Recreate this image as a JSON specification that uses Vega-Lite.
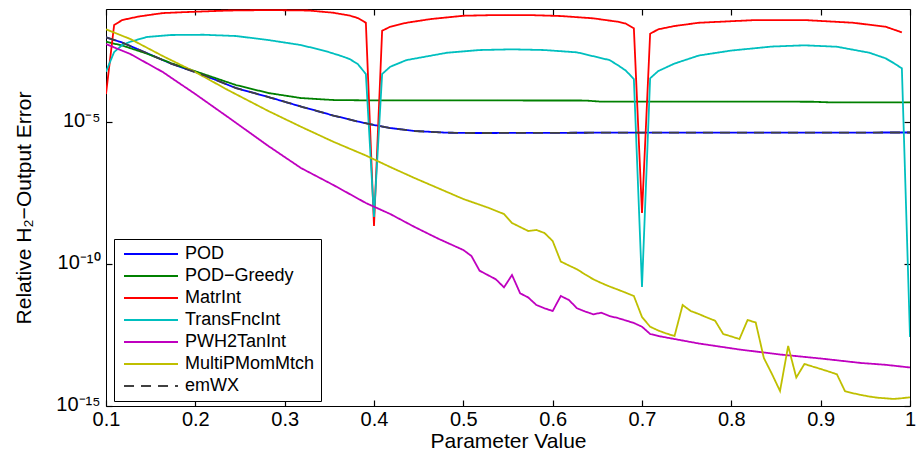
{
  "$schema": "https://vega.github.io/schema/vega-lite/v6.json",
  "width": 804,
  "height": 397,
  "autosize": "none",
  "padding": {"left": 106, "top": 9, "right": 7, "bottom": 59},
  "background": "white",
  "config": {
    "view": {"stroke": "black", "strokeWidth": 1},
    "font": "Liberation Sans",
    "axis": {
      "labelFont": "Liberation Sans", "labelFontSize": 20, "labelColor": "black",
      "titleFont": "Liberation Sans", "titleFontSize": 21, "titleFontWeight": "normal", "titleColor": "black",
      "domain": false, "tickColor": "black", "grid": false, "tickSize": 6, "tickWidth": 1.2, "offset": -6,
      "labelFlush": false, "labelOverlap": false
    }
  },
  "data": {
    "values": [
      {"method": "POD", "p": 0.1, "err": 1.0e-2},
      {"method": "POD", "p": 0.1182, "err": 6.56e-3},
      {"method": "POD", "p": 0.1455, "err": 2.80e-3},
      {"method": "POD", "p": 0.1727, "err": 1.19e-3},
      {"method": "POD", "p": 0.2091, "err": 4.69e-4},
      {"method": "POD", "p": 0.2455, "err": 1.63e-4},
      {"method": "POD", "p": 0.2818, "err": 7.87e-5},
      {"method": "POD", "p": 0.3182, "err": 3.64e-5},
      {"method": "POD", "p": 0.3545, "err": 1.75e-5},
      {"method": "POD", "p": 0.3818, "err": 1.08e-5},
      {"method": "POD", "p": 0.4, "err": 8.09e-6},
      {"method": "POD", "p": 0.4182, "err": 6.35e-6},
      {"method": "POD", "p": 0.4455, "err": 4.98e-6},
      {"method": "POD", "p": 0.4818, "err": 4.34e-6},
      {"method": "POD", "p": 0.5182, "err": 4.23e-6},
      {"method": "POD", "p": 0.6455, "err": 4.34e-6},
      {"method": "POD", "p": 0.8, "err": 4.38e-6},
      {"method": "POD", "p": 1.0, "err": 4.41e-6},

      {"method": "POD−Greedy", "p": 0.1, "err": 7.01e-3},
      {"method": "POD−Greedy", "p": 0.1182, "err": 5.15e-3},
      {"method": "POD−Greedy", "p": 0.1455, "err": 2.69e-3},
      {"method": "POD−Greedy", "p": 0.1727, "err": 1.24e-3},
      {"method": "POD−Greedy", "p": 0.2091, "err": 5.09e-4},
      {"method": "POD−Greedy", "p": 0.2455, "err": 2.08e-4},
      {"method": "POD−Greedy", "p": 0.2818, "err": 1.09e-4},
      {"method": "POD−Greedy", "p": 0.3182, "err": 7.24e-5},
      {"method": "POD−Greedy", "p": 0.3545, "err": 6.17e-5},
      {"method": "POD−Greedy", "p": 0.3909, "err": 6.01e-5},
      {"method": "POD−Greedy", "p": 0.6364, "err": 5.92e-5},
      {"method": "POD−Greedy", "p": 0.6545, "err": 5.40e-5},
      {"method": "POD−Greedy", "p": 0.8909, "err": 5.37e-5},
      {"method": "POD−Greedy", "p": 0.9091, "err": 5.12e-5},
      {"method": "POD−Greedy", "p": 1.0, "err": 5.12e-5},

      {"method": "MatrInt", "p": 0.1, "err": 1.0e-4},
      {"method": "MatrInt", "p": 0.1091, "err": 2.72e-2},
      {"method": "MatrInt", "p": 0.1182, "err": 4.08e-2},
      {"method": "MatrInt", "p": 0.1364, "err": 5.42e-2},
      {"method": "MatrInt", "p": 0.1636, "err": 7.19e-2},
      {"method": "MatrInt", "p": 0.1909, "err": 7.82e-2},
      {"method": "MatrInt", "p": 0.2364, "err": 8.83e-2},
      {"method": "MatrInt", "p": 0.2818, "err": 9.18e-2},
      {"method": "MatrInt", "p": 0.3273, "err": 8.83e-2},
      {"method": "MatrInt", "p": 0.3545, "err": 7.38e-2},
      {"method": "MatrInt", "p": 0.3727, "err": 5.88e-2},
      {"method": "MatrInt", "p": 0.3818, "err": 4.80e-2},
      {"method": "MatrInt", "p": 0.3909, "err": 3.27e-2},
      {"method": "MatrInt", "p": 0.4, "err": 2.22e-9},
      {"method": "MatrInt", "p": 0.4091, "err": 1.71e-2},
      {"method": "MatrInt", "p": 0.4182, "err": 2.37e-2},
      {"method": "MatrInt", "p": 0.4364, "err": 3.27e-2},
      {"method": "MatrInt", "p": 0.4636, "err": 4.43e-2},
      {"method": "MatrInt", "p": 0.5, "err": 5.78e-2},
      {"method": "MatrInt", "p": 0.5364, "err": 6.12e-2},
      {"method": "MatrInt", "p": 0.5727, "err": 6.12e-2},
      {"method": "MatrInt", "p": 0.6091, "err": 5.65e-2},
      {"method": "MatrInt", "p": 0.6455, "err": 4.69e-2},
      {"method": "MatrInt", "p": 0.6727, "err": 3.56e-2},
      {"method": "MatrInt", "p": 0.6818, "err": 3.07e-2},
      {"method": "MatrInt", "p": 0.6909, "err": 2.08e-2},
      {"method": "MatrInt", "p": 0.7, "err": 6.38e-9},
      {"method": "MatrInt", "p": 0.7091, "err": 1.34e-2},
      {"method": "MatrInt", "p": 0.7182, "err": 1.92e-2},
      {"method": "MatrInt", "p": 0.7364, "err": 2.51e-2},
      {"method": "MatrInt", "p": 0.7636, "err": 3.27e-2},
      {"method": "MatrInt", "p": 0.8273, "err": 4.08e-2},
      {"method": "MatrInt", "p": 0.8818, "err": 4.08e-2},
      {"method": "MatrInt", "p": 0.9364, "err": 3.27e-2},
      {"method": "MatrInt", "p": 0.9727, "err": 2.37e-2},
      {"method": "MatrInt", "p": 0.9909, "err": 1.50e-2},

      {"method": "TransFncInt", "p": 0.1, "err": 6.14e-4},
      {"method": "TransFncInt", "p": 0.1091, "err": 3.03e-3},
      {"method": "TransFncInt", "p": 0.1182, "err": 5.36e-3},
      {"method": "TransFncInt", "p": 0.1273, "err": 7.01e-3},
      {"method": "TransFncInt", "p": 0.1455, "err": 1.026e-2},
      {"method": "TransFncInt", "p": 0.1727, "err": 1.21e-2},
      {"method": "TransFncInt", "p": 0.2091, "err": 1.236e-2},
      {"method": "TransFncInt", "p": 0.2455, "err": 1.114e-2},
      {"method": "TransFncInt", "p": 0.2818, "err": 8.04e-3},
      {"method": "TransFncInt", "p": 0.3182, "err": 5.36e-3},
      {"method": "TransFncInt", "p": 0.3455, "err": 3.30e-3},
      {"method": "TransFncInt", "p": 0.3636, "err": 2.19e-3},
      {"method": "TransFncInt", "p": 0.3727, "err": 1.72e-3},
      {"method": "TransFncInt", "p": 0.3818, "err": 1.15e-3},
      {"method": "TransFncInt", "p": 0.3909, "err": 5.09e-4},
      {"method": "TransFncInt", "p": 0.4, "err": 4.61e-9},
      {"method": "TransFncInt", "p": 0.4091, "err": 5.09e-4},
      {"method": "TransFncInt", "p": 0.4182, "err": 9.2e-4},
      {"method": "TransFncInt", "p": 0.4364, "err": 1.58e-3},
      {"method": "TransFncInt", "p": 0.4818, "err": 2.87e-3},
      {"method": "TransFncInt", "p": 0.5182, "err": 3.57e-3},
      {"method": "TransFncInt", "p": 0.5545, "err": 3.78e-3},
      {"method": "TransFncInt", "p": 0.5909, "err": 3.57e-3},
      {"method": "TransFncInt", "p": 0.6273, "err": 2.96e-3},
      {"method": "TransFncInt", "p": 0.6636, "err": 1.58e-3},
      {"method": "TransFncInt", "p": 0.6727, "err": 1.06e-3},
      {"method": "TransFncInt", "p": 0.6818, "err": 6.76e-4},
      {"method": "TransFncInt", "p": 0.6909, "err": 3.39e-4},
      {"method": "TransFncInt", "p": 0.7, "err": 1.57e-11},
      {"method": "TransFncInt", "p": 0.7091, "err": 3.59e-4},
      {"method": "TransFncInt", "p": 0.7182, "err": 6.49e-4},
      {"method": "TransFncInt", "p": 0.7364, "err": 1.19e-3},
      {"method": "TransFncInt", "p": 0.7636, "err": 2.29e-3},
      {"method": "TransFncInt", "p": 0.8, "err": 3.43e-3},
      {"method": "TransFncInt", "p": 0.8455, "err": 4.74e-3},
      {"method": "TransFncInt", "p": 0.8818, "err": 5.24e-3},
      {"method": "TransFncInt", "p": 0.9182, "err": 4.67e-3},
      {"method": "TransFncInt", "p": 0.9545, "err": 2.87e-3},
      {"method": "TransFncInt", "p": 0.9727, "err": 1.82e-3},
      {"method": "TransFncInt", "p": 0.9818, "err": 1.24e-3},
      {"method": "TransFncInt", "p": 0.9909, "err": 8.07e-4},
      {"method": "TransFncInt", "p": 1.0, "err": 2.71e-13},

      {"method": "PWH2TanInt", "p": 0.1, "err": 5.81e-3},
      {"method": "PWH2TanInt", "p": 0.1273, "err": 2.58e-3},
      {"method": "PWH2TanInt", "p": 0.1636, "err": 5.98e-4},
      {"method": "PWH2TanInt", "p": 0.2, "err": 1.0e-4},
      {"method": "PWH2TanInt", "p": 0.2364, "err": 1.55e-5},
      {"method": "PWH2TanInt", "p": 0.2818, "err": 1.47e-6},
      {"method": "PWH2TanInt", "p": 0.3182, "err": 2.47e-7},
      {"method": "PWH2TanInt", "p": 0.3545, "err": 6.21e-8},
      {"method": "PWH2TanInt", "p": 0.3909, "err": 1.44e-8},
      {"method": "PWH2TanInt", "p": 0.4182, "err": 5.89e-9},
      {"method": "PWH2TanInt", "p": 0.4455, "err": 2.05e-9},
      {"method": "PWH2TanInt", "p": 0.4727, "err": 7.74e-10},
      {"method": "PWH2TanInt", "p": 0.5, "err": 3.17e-10},
      {"method": "PWH2TanInt", "p": 0.5091, "err": 1.95e-10},
      {"method": "PWH2TanInt", "p": 0.5182, "err": 5.90e-11},
      {"method": "PWH2TanInt", "p": 0.5273, "err": 4.16e-11},
      {"method": "PWH2TanInt", "p": 0.5364, "err": 2.94e-11},
      {"method": "PWH2TanInt", "p": 0.5455, "err": 1.53e-11},
      {"method": "PWH2TanInt", "p": 0.5545, "err": 4.16e-11},
      {"method": "PWH2TanInt", "p": 0.5636, "err": 9.42e-12},
      {"method": "PWH2TanInt", "p": 0.5727, "err": 6.70e-12},
      {"method": "PWH2TanInt", "p": 0.5818, "err": 3.64e-12},
      {"method": "PWH2TanInt", "p": 0.5909, "err": 2.79e-12},
      {"method": "PWH2TanInt", "p": 0.6, "err": 2.24e-12},
      {"method": "PWH2TanInt", "p": 0.6091, "err": 7.57e-12},
      {"method": "PWH2TanInt", "p": 0.6182, "err": 5.47e-12},
      {"method": "PWH2TanInt", "p": 0.6273, "err": 2.79e-12},
      {"method": "PWH2TanInt", "p": 0.6364, "err": 2.15e-12},
      {"method": "PWH2TanInt", "p": 0.6455, "err": 1.71e-12},
      {"method": "PWH2TanInt", "p": 0.6545, "err": 1.95e-12},
      {"method": "PWH2TanInt", "p": 0.6636, "err": 1.49e-12},
      {"method": "PWH2TanInt", "p": 0.6727, "err": 1.27e-12},
      {"method": "PWH2TanInt", "p": 0.6818, "err": 1.04e-12},
      {"method": "PWH2TanInt", "p": 0.6909, "err": 8.45e-13},
      {"method": "PWH2TanInt", "p": 0.7, "err": 6.25e-13},
      {"method": "PWH2TanInt", "p": 0.7091, "err": 3.46e-13},
      {"method": "PWH2TanInt", "p": 0.7182, "err": 2.94e-13},
      {"method": "PWH2TanInt", "p": 0.7364, "err": 2.30e-13},
      {"method": "PWH2TanInt", "p": 0.7636, "err": 1.60e-13},
      {"method": "PWH2TanInt", "p": 0.8091, "err": 9.82e-14},
      {"method": "PWH2TanInt", "p": 0.8545, "err": 6.55e-14},
      {"method": "PWH2TanInt", "p": 0.9, "err": 4.73e-14},
      {"method": "PWH2TanInt", "p": 0.9455, "err": 3.28e-14},
      {"method": "PWH2TanInt", "p": 0.9727, "err": 2.84e-14},
      {"method": "PWH2TanInt", "p": 1.0, "err": 2.28e-14},

      {"method": "MultiPMomMtch", "p": 0.1, "err": 1.92e-2},
      {"method": "MultiPMomMtch", "p": 0.1273, "err": 8.73e-3},
      {"method": "MultiPMomMtch", "p": 0.1636, "err": 2.19e-3},
      {"method": "MultiPMomMtch", "p": 0.2, "err": 5.98e-4},
      {"method": "MultiPMomMtch", "p": 0.2364, "err": 1.39e-4},
      {"method": "MultiPMomMtch", "p": 0.2818, "err": 2.52e-5},
      {"method": "MultiPMomMtch", "p": 0.3182, "err": 7.05e-6},
      {"method": "MultiPMomMtch", "p": 0.3545, "err": 2.08e-6},
      {"method": "MultiPMomMtch", "p": 0.3909, "err": 6.81e-7},
      {"method": "MultiPMomMtch", "p": 0.4182, "err": 2.67e-7},
      {"method": "MultiPMomMtch", "p": 0.4455, "err": 1.09e-7},
      {"method": "MultiPMomMtch", "p": 0.4727, "err": 4.67e-8},
      {"method": "MultiPMomMtch", "p": 0.5, "err": 1.99e-8},
      {"method": "MultiPMomMtch", "p": 0.5273, "err": 9.98e-9},
      {"method": "MultiPMomMtch", "p": 0.5455, "err": 5.89e-9},
      {"method": "MultiPMomMtch", "p": 0.5545, "err": 2.84e-9},
      {"method": "MultiPMomMtch", "p": 0.5636, "err": 2.05e-9},
      {"method": "MultiPMomMtch", "p": 0.5727, "err": 1.48e-9},
      {"method": "MultiPMomMtch", "p": 0.5818, "err": 1.61e-9},
      {"method": "MultiPMomMtch", "p": 0.5909, "err": 1.26e-9},
      {"method": "MultiPMomMtch", "p": 0.6, "err": 6.58e-10},
      {"method": "MultiPMomMtch", "p": 0.6091, "err": 1.24e-10},
      {"method": "MultiPMomMtch", "p": 0.6182, "err": 8.99e-11},
      {"method": "MultiPMomMtch", "p": 0.6273, "err": 6.61e-11},
      {"method": "MultiPMomMtch", "p": 0.6364, "err": 4.34e-11},
      {"method": "MultiPMomMtch", "p": 0.6455, "err": 2.94e-11},
      {"method": "MultiPMomMtch", "p": 0.6545, "err": 2.17e-11},
      {"method": "MultiPMomMtch", "p": 0.6636, "err": 1.64e-11},
      {"method": "MultiPMomMtch", "p": 0.6727, "err": 1.28e-11},
      {"method": "MultiPMomMtch", "p": 0.6818, "err": 9.89e-12},
      {"method": "MultiPMomMtch", "p": 0.6909, "err": 7.57e-12},
      {"method": "MultiPMomMtch", "p": 0.7, "err": 1.37e-12},
      {"method": "MultiPMomMtch", "p": 0.7091, "err": 6.25e-13},
      {"method": "MultiPMomMtch", "p": 0.7182, "err": 4.59e-13},
      {"method": "MultiPMomMtch", "p": 0.7273, "err": 3.60e-13},
      {"method": "MultiPMomMtch", "p": 0.7364, "err": 2.94e-13},
      {"method": "MultiPMomMtch", "p": 0.7455, "err": 3.64e-12},
      {"method": "MultiPMomMtch", "p": 0.7545, "err": 2.24e-12},
      {"method": "MultiPMomMtch", "p": 0.7636, "err": 1.75e-12},
      {"method": "MultiPMomMtch", "p": 0.7727, "err": 1.32e-12},
      {"method": "MultiPMomMtch", "p": 0.7818, "err": 1.02e-12},
      {"method": "MultiPMomMtch", "p": 0.7909, "err": 3.46e-13},
      {"method": "MultiPMomMtch", "p": 0.8, "err": 2.83e-13},
      {"method": "MultiPMomMtch", "p": 0.8091, "err": 2.30e-13},
      {"method": "MultiPMomMtch", "p": 0.8182, "err": 1.08e-12},
      {"method": "MultiPMomMtch", "p": 0.8273, "err": 8.79e-13},
      {"method": "MultiPMomMtch", "p": 0.8364, "err": 4.93e-14},
      {"method": "MultiPMomMtch", "p": 0.8455, "err": 1.34e-14},
      {"method": "MultiPMomMtch", "p": 0.8545, "err": 3.38e-15},
      {"method": "MultiPMomMtch", "p": 0.8636, "err": 1.31e-13},
      {"method": "MultiPMomMtch", "p": 0.8727, "err": 1.01e-14},
      {"method": "MultiPMomMtch", "p": 0.8818, "err": 3.03e-14},
      {"method": "MultiPMomMtch", "p": 0.8909, "err": 2.47e-14},
      {"method": "MultiPMomMtch", "p": 0.9, "err": 2.02e-14},
      {"method": "MultiPMomMtch", "p": 0.9091, "err": 1.64e-14},
      {"method": "MultiPMomMtch", "p": 0.9182, "err": 1.31e-14},
      {"method": "MultiPMomMtch", "p": 0.9273, "err": 3.30e-15},
      {"method": "MultiPMomMtch", "p": 0.9364, "err": 2.81e-15},
      {"method": "MultiPMomMtch", "p": 0.9455, "err": 2.44e-15},
      {"method": "MultiPMomMtch", "p": 0.9545, "err": 2.16e-15},
      {"method": "MultiPMomMtch", "p": 0.9636, "err": 1.96e-15},
      {"method": "MultiPMomMtch", "p": 0.9727, "err": 1.87e-15},
      {"method": "MultiPMomMtch", "p": 0.9818, "err": 1.77e-15},
      {"method": "MultiPMomMtch", "p": 0.9909, "err": 1.88e-15},
      {"method": "MultiPMomMtch", "p": 1.0, "err": 2.03e-15},

      {"method": "emWX", "p": 0.1, "err": 1.0e-2},
      {"method": "emWX", "p": 0.1182, "err": 6.56e-3},
      {"method": "emWX", "p": 0.1455, "err": 2.80e-3},
      {"method": "emWX", "p": 0.1727, "err": 1.19e-3},
      {"method": "emWX", "p": 0.2091, "err": 4.69e-4},
      {"method": "emWX", "p": 0.2455, "err": 1.63e-4},
      {"method": "emWX", "p": 0.2818, "err": 7.87e-5},
      {"method": "emWX", "p": 0.3182, "err": 3.64e-5},
      {"method": "emWX", "p": 0.3545, "err": 1.75e-5},
      {"method": "emWX", "p": 0.3818, "err": 1.08e-5},
      {"method": "emWX", "p": 0.4, "err": 8.09e-6},
      {"method": "emWX", "p": 0.4182, "err": 6.35e-6},
      {"method": "emWX", "p": 0.4455, "err": 4.98e-6},
      {"method": "emWX", "p": 0.4818, "err": 4.34e-6},
      {"method": "emWX", "p": 0.5182, "err": 4.23e-6},
      {"method": "emWX", "p": 0.6455, "err": 4.34e-6},
      {"method": "emWX", "p": 0.8, "err": 4.38e-6},
      {"method": "emWX", "p": 1.0, "err": 4.41e-6}
    ]
  },
  "layer": [
    {
      "transform": [{"filter": "datum.method !== 'emWX'"}],
      "mark": {"type": "line", "strokeWidth": 1.8, "clip": true},
      "encoding": {
        "x": {
          "field": "p", "type": "quantitative",
          "scale": {"domain": [0.1, 1], "nice": false, "zero": false},
          "axis": {"orient": "bottom", "values": [0.1, 0.2, 0.3, 0.4, 0.5, 0.6, 0.7, 0.8, 0.9, 1], "format": "~g",
                   "title": "Parameter Value", "labelPadding": 3, "titlePadding": 1}
        },
        "y": {
          "field": "err", "type": "quantitative",
          "scale": {"type": "log", "domain": [1e-15, 1e-1], "nice": false},
          "axis": {"orient": "left", "values": [1e-15, 1e-10, 1e-5],
                   "labelExpr": "datum.value > 1e-6 ? '10⁻⁵' : datum.value > 1e-11 ? '10⁻¹⁰' : '10⁻¹⁵'",
                   "title": "Relative H₂−Output Error", "labelPadding": 6, "labelOffset": -2, "titlePadding": 21}
        },
        "color": {
          "field": "method", "type": "nominal",
          "scale": {"domain": ["POD", "POD−Greedy", "MatrInt", "TransFncInt", "PWH2TanInt", "MultiPMomMtch", "emWX"],
                    "range": ["#0000ff", "#008000", "#ff0000", "#00bfbf", "#bf00bf", "#bfbf00", "#404040"]},
          "legend": {"orient": "none", "legendX": 8, "legendY": 230, "title": null,
                     "labelFont": "Liberation Sans", "labelFontSize": 18, "labelColor": "black",
                     "strokeColor": "black", "fillColor": "white", "padding": 6, "rowPadding": 4,
                     "symbolType": "M-4,0H4", "symbolSize": 182, "symbolStrokeWidth": 2,
                     "symbolOffset": 22, "labelOffset": 25}
        },
        "strokeDash": {
          "field": "method", "type": "nominal",
          "scale": {"domain": ["POD", "POD−Greedy", "MatrInt", "TransFncInt", "PWH2TanInt", "MultiPMomMtch", "emWX"],
                    "range": [[1, 0], [1, 0], [1, 0], [1, 0], [1, 0], [1, 0], [10, 7]]},
          "legend": {"orient": "none", "legendX": 8, "legendY": 230, "title": null,
                     "labelFont": "Liberation Sans", "labelFontSize": 18, "labelColor": "black",
                     "strokeColor": "black", "fillColor": "white", "padding": 6, "rowPadding": 4,
                     "symbolType": "M-4,0H4", "symbolSize": 182, "symbolStrokeWidth": 2,
                     "symbolOffset": 22, "labelOffset": 25}
        }
      }
    },
    {
      "transform": [{"filter": "datum.method === 'emWX'"}],
      "mark": {"type": "line", "strokeWidth": 1.8, "clip": true},
      "encoding": {
        "x": {
          "field": "p", "type": "quantitative",
          "axis": {"orient": "top", "values": [0.1, 0.2, 0.3, 0.4, 0.5, 0.6, 0.7, 0.8, 0.9, 1],
                   "labels": false, "title": null}
        },
        "y": {
          "field": "err", "type": "quantitative",
          "axis": {"orient": "right", "values": [1e-15, 1e-10, 1e-5], "labels": false, "title": null}
        },
        "color": {"field": "method", "type": "nominal"},
        "strokeDash": {"field": "method", "type": "nominal"}
      }
    }
  ],
  "resolve": {"axis": {"x": "independent", "y": "independent"}}
}
